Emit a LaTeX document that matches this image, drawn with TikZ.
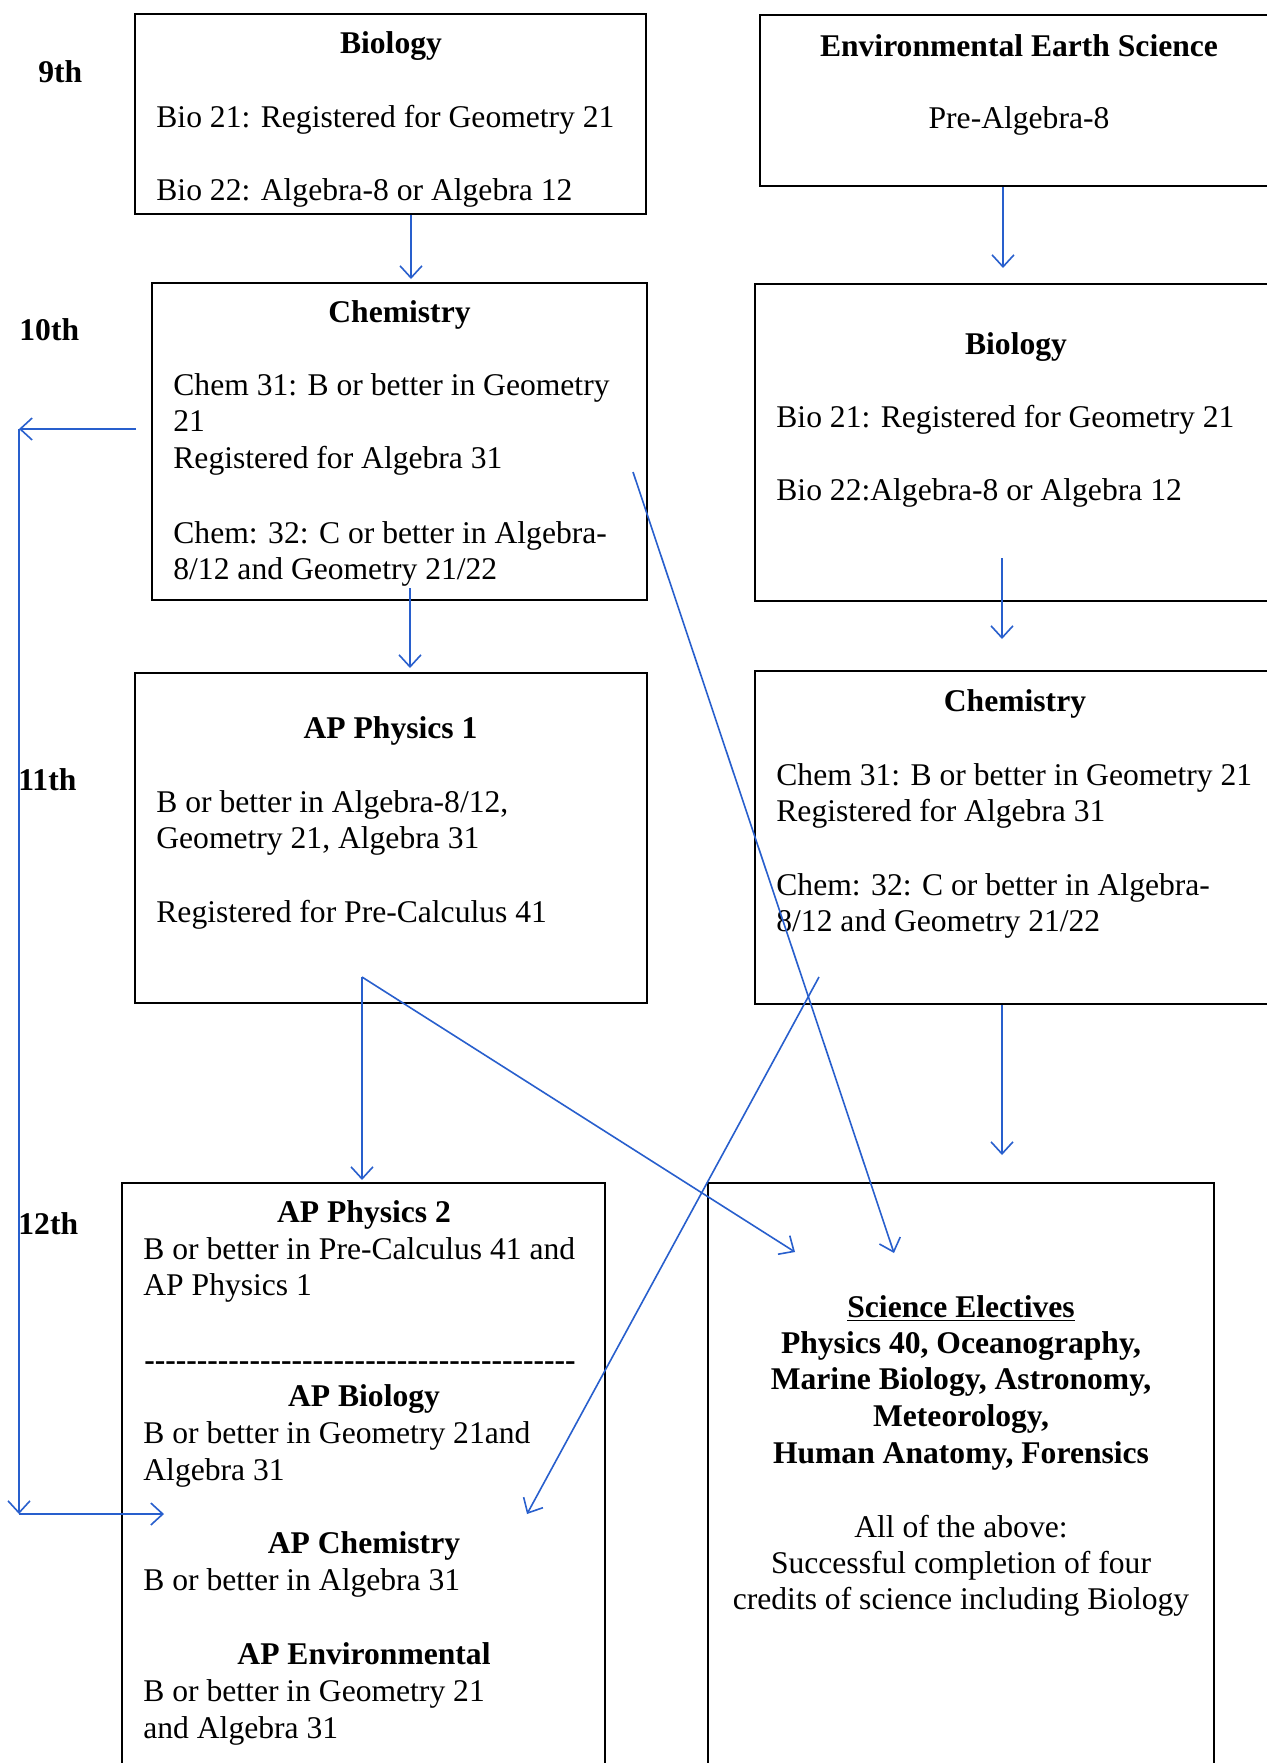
\documentclass[tikz,border=0pt]{standalone}
\usepackage{fontspec}
\setmainfont{Liberation Serif}
\usetikzlibrary{arrows.meta,fit}
\definecolor{arrowblue}{RGB}{40,95,205}
\newcommand\hy{\mbox{-}}
\begin{document}
\begin{tikzpicture}[x=0.5pt,y=-0.5pt,
  box/.style={draw=black, line width=1pt, inner sep=0pt},
  txt/.style={anchor=base west, inner sep=0pt, font=\fontsize{15.8}{18.25}\selectfont},
  ctxt/.style={anchor=base, inner sep=0pt, font=\fontsize{15.8}{18.25}\selectfont},
  hd/.style={anchor=base, inner sep=0pt, font=\fontsize{15.8}{18.25}\selectfont\bfseries},
  grade/.style={anchor=base west, inner sep=0pt, font=\fontsize{15.8}{18.25}\selectfont\bfseries},
  arr/.style={draw=arrowblue, line width=0.8pt, -{Straight Barb[length=6pt,width=11pt]}}]
\useasboundingbox (0,0) rectangle (1267,1763);
\fill[white] (0,0) rectangle (1267,1763);
\clip (0,0) rectangle (1267,1763);

% boxes
\node[box, fit={(135,14) (646,214)}] (bio9) {};
\node[box, fit={(760,15) (1280,186)}] (ees) {};
\node[box, fit={(152,283) (647,600)}] (chemL) {};
\node[box, fit={(755,284) (1280,601)}] (bioR) {};
\node[box, fit={(135,673) (647,1003)}] (ap1) {};
\node[box, fit={(755,671) (1280,1004)}] (chemR) {};
\node[box, fit={(122,1183) (605,1780)}] (ap2) {};
\node[box, fit={(708,1183) (1214,1780)}] (se) {};

% grades
\node[grade] (g9) at (38,82) {9th};
\node[grade] (g10) at (19,340) {10th};
\node[grade] (g11) at (18,790) {11th};
\node[grade] (g12) at (18,1234) {12th};

% bio9
\node[hd] (bio9h) at (391,53) {Biology};
\node[txt] (bio9a) at (156,127) {Bio 21: Registered for Geometry 21};
\node[txt] (bio9b) at (156,200) {Bio 22: Algebra-8 or Algebra 12};

% ees
\node[hd] (eesh) at (1019,56) {Environmental Earth Science};
\node[ctxt] (eesa) at (1019,128) {Pre-Algebra-8};

% chemL
\node[hd] (chemLh) at (399.5,322) {Chemistry};
\node[txt] (chemLa) at (173,395) {Chem 31: B or better in Geometry};
\node[txt] (chemLb) at (173,431.5) {21};
\node[txt] (chemLc) at (173,468) {Registered for Algebra 31};
\node[txt] (chemLd) at (173,543) {Chem: 32: C or better in Algebra-};
\node[txt] (chemLe) at (173,579.5) {8/12 and Geometry 21/22};

% bioR
\node[hd] (bioRh) at (1016,354) {Biology};
\node[txt] (bioRa) at (776,427) {Bio 21: Registered for Geometry 21};
\node[txt] (bioRb) at (776,500) {Bio 22:Algebra-8 or Algebra 12};

% ap1
\node[hd] (ap1h) at (390.5,738) {AP Physics 1};
\node[txt] (ap1a) at (156,812) {B or better in Algebra-8/12,};
\node[txt] (ap1b) at (156,848) {Geometry 21, Algebra 31};
\node[txt] (ap1c) at (156,922) {Registered for Pre-Calculus 41};

% chemR
\node[hd] (chemRh) at (1015,711) {Chemistry};
\node[txt] (chemRa) at (776,785) {Chem 31: B or better in Geometry 21};
\node[txt] (chemRb) at (776,821) {Registered for Algebra 31};
\node[txt] (chemRc) at (776,895) {Chem: 32: C or better in Algebra-};
\node[txt] (chemRd) at (776,931) {8/12 and Geometry 21/22};

% ap2
\node[hd] (ap2h) at (364,1222) {AP Physics 2};
\node[txt] (ap2a) at (143,1259) {B or better in Pre-Calculus 41 and};
\node[txt] (ap2b) at (143,1295) {AP Physics 1};
\node[hd] (ap2dash) at (360,1370) {\hy\hy\hy\hy\hy\hy\hy\hy\hy\hy\hy\hy\hy\hy\hy\hy\hy\hy\hy\hy\hy\hy\hy\hy\hy\hy\hy\hy\hy\hy\hy\hy\hy\hy\hy\hy\hy\hy\hy\hy\hy};
\node[hd] (apbh) at (364,1406) {AP Biology};
\node[txt] (apba) at (143,1443) {B or better in Geometry 21and};
\node[txt] (apbb) at (143,1480) {Algebra 31};
\node[hd] (apch) at (364,1553) {AP Chemistry};
\node[txt] (apca) at (143,1590) {B or better in Algebra 31};
\node[hd] (apeh) at (364,1664) {AP Environmental};
\node[txt] (apea) at (143,1701) {B or better in Geometry 21};
\node[txt] (apeb) at (143,1738) {and Algebra 31};

% science electives
\node[hd] (seh) at (961,1317) {\underline{Science Electives}};
\node[hd] (sea) at (961,1353) {Physics 40, Oceanography,};
\node[hd] (seb) at (961,1389) {Marine Biology, Astronomy,};
\node[hd] (sec) at (961,1426) {Meteorology,};
\node[hd] (sed) at (961,1463) {Human Anatomy, Forensics};
\node[ctxt] (see) at (961,1537) {All of the above:};
\node[ctxt] (sef) at (961,1573) {Successful completion of four};
\node[ctxt] (seg) at (961,1609) {credits of science including Biology};

% connector points
\coordinate (a1s) at (411,215);  \coordinate (a1e) at (411,279);
\coordinate (a2s) at (1003,187); \coordinate (a2e) at (1003,268);
\coordinate (a3s) at (410,588);  \coordinate (a3e) at (410,668);
\coordinate (a4s) at (1002,558); \coordinate (a4e) at (1002,639);
\coordinate (a5s) at (1002,1005); \coordinate (a5e) at (1002,1155);
\coordinate (p1) at (362,977);
\coordinate (p1v) at (362,1180);
\coordinate (p1d) at (795,1252);
\coordinate (p2) at (633,472);
\coordinate (p2d) at (894,1253);
\coordinate (p3) at (819,977);
\coordinate (p3d) at (527,1514);
\coordinate (l0) at (136,429);
\coordinate (l1) at (19,429);
\coordinate (l2) at (19,1514);
\coordinate (l3) at (164,1514);

\draw[arr] (a1s) -- (a1e);
\draw[arr] (a2s) -- (a2e);
\draw[arr] (a3s) -- (a3e);
\draw[arr] (a4s) -- (a4e);
\draw[arr] (a5s) -- (a5e);
\draw[arr] (p1) -- (p1v);
\draw[arr] (p1) -- (p1d);
\draw[arr] (p2) -- (p2d);
\draw[arr] (p3) -- (p3d);
\draw[arr] (l0) -- (l1);
\draw[arr] (l1) -- (l2);
\draw[arr] (l2) -- (l3);
\end{tikzpicture}
\end{document}
